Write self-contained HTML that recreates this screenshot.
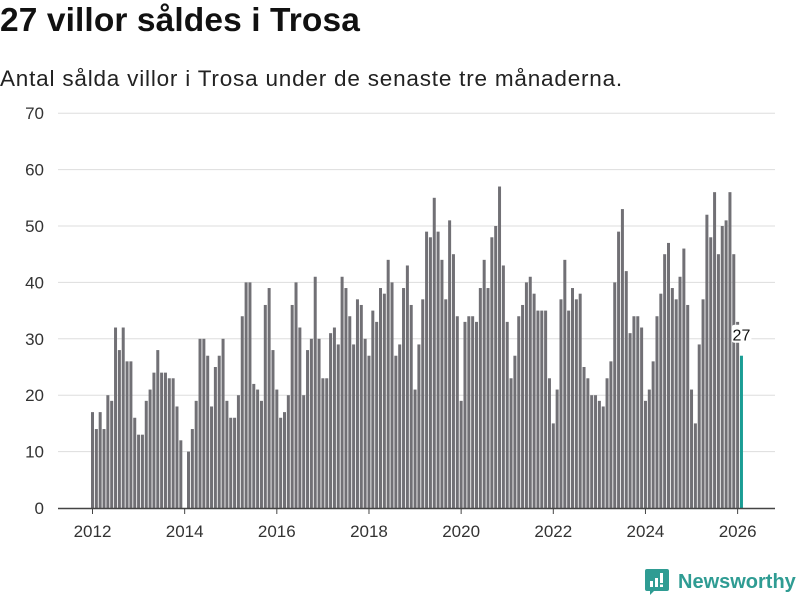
<!DOCTYPE html>
<html><head><meta charset="utf-8"><style>
body{margin:0;width:800px;height:600px;background:#fff;font-family:"Liberation Sans",sans-serif;overflow:hidden;position:relative}
h1{position:absolute;left:0;top:2px;margin:0;font-size:33.5px;font-weight:bold;color:#111;letter-spacing:0.1px}
.sub{position:absolute;left:0;top:66px;font-size:22.5px;color:#222;letter-spacing:0.8px}
svg{position:absolute;left:0;top:0}
.logo{position:absolute;left:645px;top:569px;display:flex;align-items:center;color:#2f9c93;font-size:20px;font-weight:bold}
</style></head><body>
<h1>27 villor såldes i Trosa</h1>
<div class="sub">Antal sålda villor i Trosa under de senaste tre månaderna.</div>
<svg width="800" height="600" id="chart"></svg>
<div class="logo">
<svg width="24" height="26" style="position:static;margin-right:9px" viewBox="0 0 24 26"><path d="M2 0h20a2 2 0 0 1 2 2v18a2 2 0 0 1-2 2H9l-4 4v-4H2a2 2 0 0 1-2-2V2a2 2 0 0 1 2-2z" fill="#2f9c93"/><rect x="5" y="12" width="3" height="6" fill="#fff"/><rect x="10" y="9" width="3" height="9" fill="#fff"/><rect x="15" y="4" width="3" height="10" fill="#fff"/><rect x="15" y="15.5" width="3" height="2.5" fill="#fff"/></svg>Newsworthy</div>
<script>
const values=[17,14,17,14,20,19,32,28,32,26,26,16,
13,13,19,21,24,28,24,24,23,23,18,12,
0,10,14,19,30,30,27,18,25,27,30,19,
16,16,20,34,40,40,22,21,19,36,39,28,
21,16,17,20,36,40,32,20,28,30,41,30,
23,23,31,32,29,41,39,34,29,37,36,30,
27,35,33,39,38,44,40,27,29,39,43,36,
21,29,37,49,48,55,49,44,37,51,45,34,
19,33,34,34,33,39,44,39,48,50,57,43,
33,23,27,34,36,40,41,38,35,35,35,23,
15,21,37,44,35,39,37,38,25,23,20,20,
19,18,23,26,40,49,53,42,31,34,34,32,
19,21,26,34,38,45,47,39,37,41,46,36,
21,15,29,37,52,48,56,45,50,51,56,45,
33,27];
const yTicks=[0,10,20,30,40,50,60,70];
const xTicks=[2012,2014,2016,2018,2020,2022,2024,2026];
const startYear=2012;
const svg=document.getElementById('chart');
const NS='http://www.w3.org/2000/svg';
const y=v=>508-v*5.64;
const x=i=>92.5+i*3.84;
const xYear=yr=>x((yr-startYear)*12);
function el(t,a){const e=document.createElementNS(NS,t);for(const k in a)e.setAttribute(k,a[k]);svg.appendChild(e);return e;}
yTicks.forEach(t=>{
 if(t>0){const g=el('line',{x1:58,x2:775,y1:y(t),y2:y(t),stroke:'#ddd','stroke-width':1});
 
 }
 const l=el('text',{x:44,y:y(t)+6,'text-anchor':'end','font-size':17,fill:'#333','font-family':'Liberation Sans, sans-serif'});
 l.textContent=t;
 
 
});
values.forEach((v,i)=>{
 if(v<=0)return;
 const last=i===values.length-1;
 const r=el('rect',{x:x(i)-1.5,y:y(v),width:3,height:v*5.64,fill:last?'#1a9d94':'#717075'});
 
 
});
const ax=el('line',{x1:58,x2:775,y1:508.5,y2:508.5,stroke:'#444','stroke-width':1.5});


xTicks.forEach(t=>{
 const tk=el('line',{x1:xYear(t),x2:xYear(t),y1:508,y2:514,stroke:'#444'});
 
 
 const l=el('text',{x:xYear(t),y:537,'text-anchor':'middle','font-size':17,fill:'#333','font-family':'Liberation Sans, sans-serif'});
 l.textContent=t;
 
 
});
const li=values.length-1;
const bg=el('rect',{x:x(li)-10,y:y(values[li])-31,width:20,height:18,fill:'#fff',rx:3});


const lab=el('text',{x:x(li),y:y(values[li])-15,'text-anchor':'middle','font-size':16,fill:'#111','font-family':'Liberation Sans, sans-serif'});
lab.textContent=values[li];


</script>
</body></html>
